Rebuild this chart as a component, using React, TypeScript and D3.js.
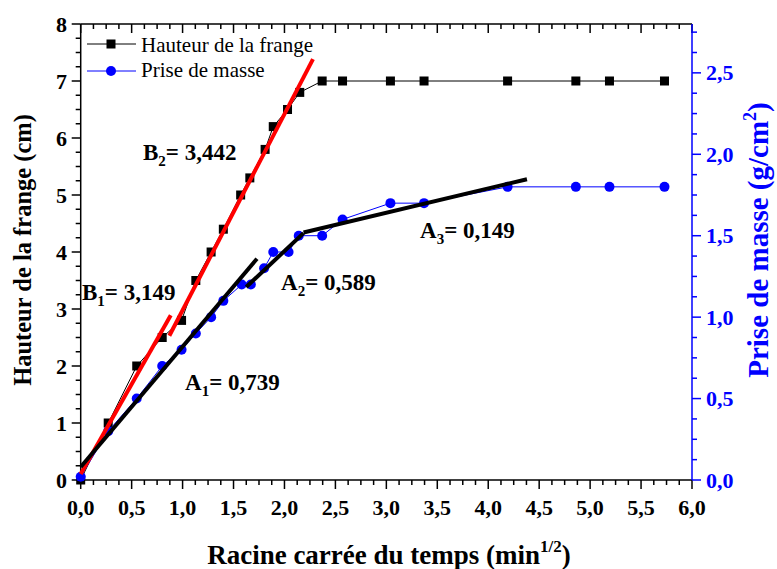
import React from "react";
import * as d3 from "d3";

// ---- data ----
const hauteurX = [0, 0.27, 0.55, 0.8, 0.99, 1.13, 1.28, 1.4, 1.57, 1.66, 1.81, 1.89, 2.03, 2.15, 2.37, 2.57, 3.04, 3.37, 4.19, 4.86, 5.19, 5.73];
const hauteurY = [0, 1.0, 2.0, 2.5, 2.8, 3.5, 4.0, 4.4, 5.0, 5.3, 5.8, 6.2, 6.5, 6.8, 7.0, 7.0, 7.0, 7.0, 7.0, 7.0, 7.0, 7.0];
const masseX = [0, 0.27, 0.55, 0.8, 0.99, 1.13, 1.28, 1.4, 1.58, 1.67, 1.8, 1.89, 2.04, 2.14, 2.37, 2.57, 3.04, 3.37, 4.19, 4.86, 5.19, 5.73];
const masseY = [0.02, 0.3, 0.5, 0.7, 0.8, 0.9, 1.0, 1.1, 1.2, 1.2, 1.3, 1.4, 1.4, 1.5, 1.5, 1.6, 1.7, 1.7, 1.8, 1.8, 1.8, 1.8];

// fitted lines: [x0, x1, y at x0, slope]
const fitB = [
  [0, 0.884, 0.105, 3.149],
  [0.87, 2.28, 2.53, 3.442],
];
const fitA = [
  [0, 1.73, 0.08, 0.739],
  [1.625, 2.187, 1.185, 0.589],
  [2.187, 4.38, 1.52, 0.149],
];

const xTicks = [0, 0.5, 1, 1.5, 2, 2.5, 3, 3.5, 4, 4.5, 5, 5.5, 6];
const yLeftTicks = [0, 1, 2, 3, 4, 5, 6, 7, 8];
const yRightTicks = [0, 0.5, 1, 1.5, 2, 2.5];

const legendLabels = ["Hauteur de la frange", "Prise de masse"];

const W = 777, H = 569;
const L = 80.7, R = 692, T = 24, B = 480;

const x = d3.scaleLinear().domain([0, 6]).range([L, R]);
const yL = d3.scaleLinear().domain([0, 8]).range([B, T]);
const yR = d3.scaleLinear().domain([0, 2.8]).range([B, T]);

const fmt = (v: number) => d3.format(".1f")(v).replace(".", ",");
const FONT = "'Liberation Serif', 'Times New Roman', serif";
const BLUE = "#0000ff";

function Sub({ main, sub, rest, x0, y0 }: { main: string; sub: string; rest: string; x0: number; y0: number }) {
  return (
    <text x={x0} y={y0} fontFamily={FONT} fontWeight="bold" fontSize={23} fill="#000">
      {main}
      <tspan fontSize={15} dy={6}>{sub}</tspan>
      <tspan dy={-6}>{rest}</tspan>
    </text>
  );
}

export default function App() {
  const xMinor = d3.range(0, 6.0001, 0.125);
  const yLMinor = d3.range(0, 8.0001, 0.25);
  const yRMinor = d3.range(0, 2.8001, 0.125);

  const hPts = hauteurX.map((v, i) => [v, hauteurY[i]] as [number, number]);
  const mPts = masseX.map((v, i) => [v, masseY[i]] as [number, number]);
  const lineL = d3.line<[number, number]>().x((d) => x(d[0])).y((d) => yL(d[1]));
  const lineR = d3.line<[number, number]>().x((d) => x(d[0])).y((d) => yR(d[1]));

  return (
    <svg width={W} height={H} style={{ position: "absolute", left: 0, top: 0, background: "#fff" }}>
      <rect x={0} y={0} width={W} height={H} fill="#fff" />

      {/* bottom axis */}
      <line x1={L} x2={R} y1={B} y2={B} stroke="#000" strokeWidth={1.5} />
      {xMinor.map((v, i) => (
        <line key={"xb" + i} x1={x(v)} x2={x(v)} y1={B} y2={B + (i % 4 === 0 ? 9 : 5)} stroke="#000" strokeWidth={1.5} />
      ))}
      {xTicks.map((v) => (
        <text key={"xl" + v} x={x(v)} y={B + 35} textAnchor="middle" fontFamily={FONT} fontWeight="bold" fontSize={22}>
          {fmt(v)}
        </text>
      ))}
      {/* top axis */}
      <line x1={L} x2={R} y1={T} y2={T} stroke="#000" strokeWidth={1.5} />
      {xMinor.map((v, i) => (
        <line key={"xt" + i} x1={x(v)} x2={x(v)} y1={T} y2={T + (i % 4 === 0 ? 9 : 5)} stroke="#000" strokeWidth={1.5} />
      ))}

      {/* left axis */}
      <line x1={L} x2={L} y1={T} y2={B} stroke="#000" strokeWidth={1.5} />
      {yLMinor.map((v, i) => (
        <line key={"yl" + i} x1={L - (i % 4 === 0 ? 9 : 5)} x2={L} y1={yL(v)} y2={yL(v)} stroke="#000" strokeWidth={1.5} />
      ))}
      {yLeftTicks.map((v) => (
        <text key={"yll" + v} x={67} y={yL(v) + 7.5} textAnchor="end" fontFamily={FONT} fontWeight="bold" fontSize={22}>
          {v}
        </text>
      ))}

      {/* right axis */}
      <line x1={R} x2={R} y1={T} y2={B} stroke={BLUE} strokeWidth={1.5} />
      {yRMinor.map((v, i) => (
        <line key={"yr" + i} x1={R} x2={R + (i % 4 === 0 ? 9 : 5)} y1={yR(v)} y2={yR(v)} stroke={BLUE} strokeWidth={1.5} />
      ))}
      {yRightTicks.map((v) => (
        <text key={"yrl" + v} x={706} y={yR(v) + 7.5} textAnchor="start" fontFamily={FONT} fontWeight="bold" fontSize={22} fill={BLUE}>
          {fmt(v)}
        </text>
      ))}

      {/* axis titles */}
      <text transform="translate(31,250) rotate(-90)" textAnchor="middle" fontFamily={FONT} fontWeight="bold" fontSize={24.5}>
        Hauteur de la frange (cm)
      </text>
      <text x={389} y={564} textAnchor="middle" fontFamily={FONT} fontWeight="bold" fontSize={27}>
        Racine carrée du temps (min<tspan fontSize={17} dy={-12}>1/2</tspan><tspan dy={12}>)</tspan>
      </text>
      <text transform="translate(768,240) rotate(-90)" textAnchor="middle" fontFamily={FONT} fontWeight="bold" fontSize={29} fill={BLUE}>
        Prise de masse (g/cm<tspan fontSize={18} dy={-12}>2</tspan><tspan dy={12}>)</tspan>
      </text>

      {/* data series */}
      <path d={lineL(hPts) || ""} fill="none" stroke="#000" strokeWidth={1} />
      {hPts.map((d, i) => (
        <rect key={"hs" + i} x={x(d[0]) - 4.5} y={yL(d[1]) - 4.5} width={9} height={9} fill="#000" />
      ))}
      <path d={lineR(mPts) || ""} fill="none" stroke={BLUE} strokeWidth={1} />
      {mPts.map((d, i) => (
        <circle key={"mc" + i} cx={x(d[0])} cy={yR(d[1])} r={5} fill={BLUE} />
      ))}

      {/* fit lines */}
      {fitB.map((f, i) => (
        <line key={"fb" + i} x1={x(f[0])} y1={yL(f[2])} x2={x(f[1])} y2={yL(f[2] + f[3] * (f[1] - f[0]))} stroke="#ff0000" strokeWidth={4} />
      ))}
      {fitA.map((f, i) => (
        <line key={"fa" + i} x1={x(f[0])} y1={yR(f[2])} x2={x(f[1])} y2={yR(f[2] + f[3] * (f[1] - f[0]))} stroke="#000" strokeWidth={4} />
      ))}

      {/* annotations */}
      <Sub main="B" sub="2" rest="= 3,442" x0={143} y0={160} />
      <Sub main="B" sub="1" rest="= 3,149" x0={82} y0={300} />
      <Sub main="A" sub="1" rest="= 0,739" x0={185} y0={390} />
      <Sub main="A" sub="2" rest="= 0,589" x0={281} y0={290} />
      <Sub main="A" sub="3" rest="= 0,149" x0={420} y0={238} />

      {/* legend */}
      <line x1={87} x2={136} y1={44} y2={44} stroke="#000" strokeWidth={1} />
      <rect x={111 - 4.5} y={44 - 4.5} width={9} height={9} fill="#000" />
      <text x={141} y={52} fontFamily={FONT} fontSize={21}>{legendLabels[0]}</text>
      <line x1={87} x2={136} y1={71} y2={71} stroke={BLUE} strokeWidth={1} />
      <circle cx={111} cy={71} r={5} fill={BLUE} />
      <text x={141} y={77} fontFamily={FONT} fontSize={21}>{legendLabels[1]}</text>
    </svg>
  );
}
